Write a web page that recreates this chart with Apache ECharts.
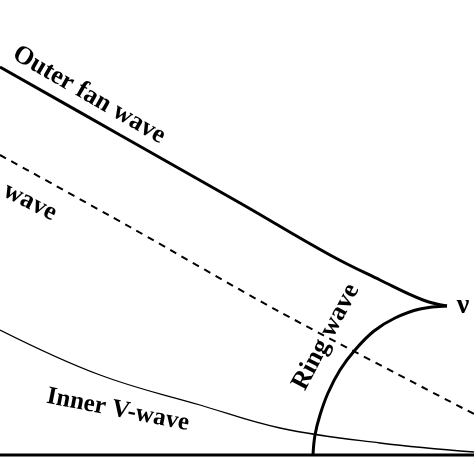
<!DOCTYPE html><html><head><meta charset="utf-8"><script src="https://cdn.jsdelivr.net/npm/echarts@6/dist/echarts.min.js"></script>
<style>html,body{margin:0;background:#fff}#c{width:474px;height:474px}</style></head><body><div id="c"></div><script>
const outerFan=[[0,67],[120,135],[240,203],[330,255],[380,280],[423,300],[447,306]];
const ringWave=[[447,306],[420,309],[395,318],[374,331],[355,350],[340,370],[328,393],[320,415],[315,435],[313,455]];
const dashedWave=[[0,155],[130,227],[280,312],[474,414]];
const innerV=[[0,330],[100,375],[200,405],[280,428],[380,443],[474,452]];
const baseLine=[[0,455],[474,455]];
const labels=[
 {text:'Outer fan wave',x:89,y:95,rot:30,size:26},
 {text:'wave',x:30,y:202,rot:27,size:26},
 {text:'Inner V-wave',x:118,y:410,rot:11,size:25},
 {text:'Ring wave',x:326,y:337,rot:-62,size:26},
 {text:'ν',x:463,y:306,rot:0,size:28}
];
const ch=echarts.init(document.getElementById('c'));
const ln=(d,w,t,sm)=>({type:'line',data:d,smooth:sm,symbol:'none',lineStyle:{color:'#000',width:w,type:t},silent:true});
ch.setOption({animation:false,
 grid:{left:0,right:0,top:0,bottom:0},
 xAxis:{type:'value',min:0,max:474,show:false},
 yAxis:{type:'value',min:0,max:474,inverse:true,show:false},
 series:[ln(outerFan,3,'solid',0.4),ln(ringWave,3,'solid',0.4),ln(dashedWave,2,[7,6],0.3),ln(innerV,1.3,'solid',0.4),ln(baseLine,3,'solid',false)],
 graphic:labels.map(l=>({type:'text',x:l.x,y:l.y,rotation:-l.rot*Math.PI/180,style:{text:l.text,font:'bold '+l.size+'px "Liberation Serif"',fill:'#000',align:'center',verticalAlign:'middle'}}))
});
</script></body></html>
